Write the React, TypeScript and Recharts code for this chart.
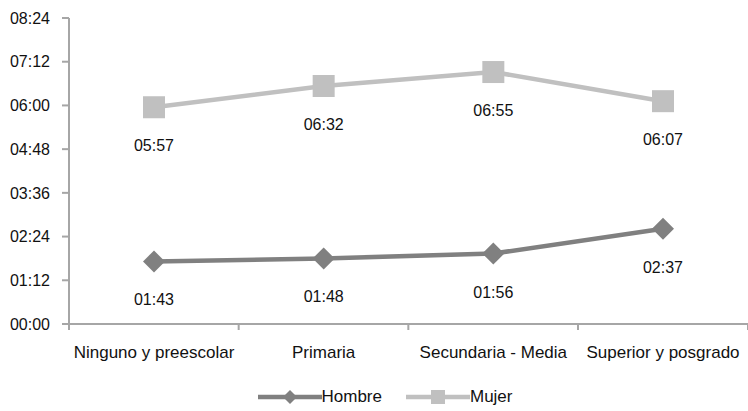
import { LineChart, Line, XAxis, YAxis, Legend } from 'recharts'

const categories = ['Ninguno y preescolar', 'Primaria', 'Secundaria - Media', 'Superior y posgrado']
// minutes
const hombre = [103, 108, 116, 157]
const mujer = [357, 392, 415, 367]
const yTicks = [0, 72, 144, 216, 288, 360, 432, 504]

const data = categories.map((c, i) => ({ cat: c, Hombre: hombre[i], Mujer: mujer[i] }))

const FONT = '"Liberation Sans", Arial, sans-serif'
const AXIS = '#a6a6a6'
const C_H = '#808080'
const C_M = '#c0c0c0'

const fmt = (m: number) => {
  const h = Math.floor(m / 60)
  const mm = Math.round(m % 60)
  return `${String(h).padStart(2, '0')}:${String(mm).padStart(2, '0')}`
}

const Diamond = (props: any) => {
  const { cx, cy } = props
  if (cx == null || cy == null) return null
  const r = 11
  return <polygon points={`${cx},${cy - r} ${cx + r},${cy} ${cx},${cy + r} ${cx - r},${cy}`} fill={C_H} />
}

const Square = (props: any) => {
  const { cx, cy } = props
  if (cx == null || cy == null) return null
  return <rect x={cx - 11} y={cy - 11} width={22} height={22} fill={C_M} />
}

const ValueLabel = (props: any) => {
  const { x, y, value } = props
  return (
    <text x={x} y={y + 44} textAnchor="middle" fontSize={16} fontFamily={FONT} fill="#111">
      {fmt(value)}
    </text>
  )
}

const XTick = (props: any) => {
  const { x, y, payload, index } = props
  const half = 85
  return (
    <g>
      <line x1={x - half} x2={x - half} y1={y - 8} y2={y - 2} stroke={AXIS} strokeWidth={2} />
      {index === categories.length - 1 && (
        <line x1={x + half} x2={x + half} y1={y - 8} y2={y - 2} stroke={AXIS} strokeWidth={2} />
      )}
      <text x={x} y={y + 26} textAnchor="middle" fontSize={17} fontFamily={FONT} fill="#111">
        {payload.value}
      </text>
    </g>
  )
}

const LegendContent = () => {
  const items = [
    { name: 'Hombre', color: C_H, shape: 'diamond' },
    { name: 'Mujer', color: C_M, shape: 'square' },
  ]
  return (
    <div style={{ display: 'flex', justifyContent: 'center', gap: 24, fontFamily: FONT, fontSize: 17, color: '#111', paddingLeft: 22 }}>
      {items.map((it) => (
        <div key={it.name} style={{ display: 'flex', alignItems: 'center' }}>
          <svg width={64} height={20}>
            <line x1={0} x2={64} y1={10} y2={10} stroke={it.color} strokeWidth={4.5} />
            {it.shape === 'diamond' ? (
              <polygon points="32,3 39,10 32,17 25,10" fill={it.color} />
            ) : (
              <rect x={25} y={3} width={14} height={14} fill={it.color} />
            )}
          </svg>
          <span>{it.name}</span>
        </div>
      ))}
    </div>
  )
}

export default function App() {
  return (
    <div style={{ position: 'absolute', left: 0, top: 0, background: '#fff' }}>
      <LineChart width={748} height={411} data={data} margin={{ top: 18, right: 0, left: 0, bottom: 0 }}>
        <XAxis
          dataKey="cat"
          tickLine={false}
          tick={<XTick />}
          stroke={AXIS}
          strokeWidth={2}
          height={63}
          interval={0}
          padding={{ left: 85, right: 85 }}
        />
        <YAxis
          domain={[0, 504]}
          ticks={yTicks}
          tickFormatter={fmt}
          width={69}
          stroke={AXIS}
          strokeWidth={2}
          tickSize={7}
          tickMargin={12}
          tick={{ fill: '#111', fontSize: 16, fontFamily: FONT }}
          interval={0}
        />
        <Legend verticalAlign="bottom" height={24} content={<LegendContent />} />
        <Line
          dataKey="Hombre"
          stroke={C_H}
          strokeWidth={4.5}
          dot={<Diamond />}
          activeDot={false}
          label={<ValueLabel />}
          isAnimationActive={false}
        />
        <Line
          dataKey="Mujer"
          stroke={C_M}
          strokeWidth={4.5}
          dot={<Square />}
          activeDot={false}
          label={<ValueLabel />}
          isAnimationActive={false}
        />
      </LineChart>
    </div>
  )
}
